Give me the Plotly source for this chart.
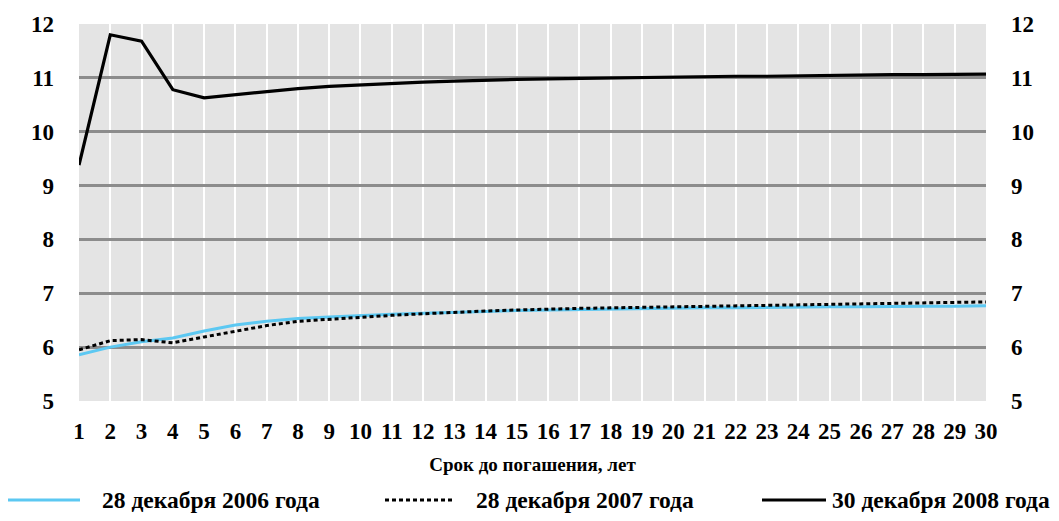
import plotly.graph_objects as go

years = list(range(1, 31))
s2006 = [5.86, 6.00, 6.10, 6.17, 6.30, 6.41, 6.48, 6.53, 6.56, 6.59,
         6.61, 6.63, 6.64, 6.66, 6.68, 6.69, 6.70, 6.71, 6.72, 6.72,
         6.73, 6.73, 6.74, 6.74, 6.75, 6.75, 6.76, 6.76, 6.76, 6.77]
s2007 = [5.95, 6.12, 6.14, 6.08, 6.19, 6.29, 6.40, 6.48, 6.52, 6.56,
         6.59, 6.62, 6.65, 6.67, 6.69, 6.71, 6.72, 6.73, 6.74, 6.75,
         6.76, 6.77, 6.78, 6.79, 6.80, 6.81, 6.82, 6.83, 6.84, 6.84]
s2008 = [9.38, 11.80, 11.68, 10.78, 10.63, 10.69, 10.75, 10.80, 10.84, 10.87,
         10.90, 10.92, 10.94, 10.96, 10.97, 10.98, 10.99, 11.00, 11.01, 11.02,
         11.02, 11.03, 11.03, 11.04, 11.05, 11.05, 11.06, 11.06, 11.07, 11.07]
names = ["28 декабря 2006 года", "28 декабря 2007 года", "30 декабря 2008 года"]
y_ticks = [5, 6, 7, 8, 9, 10, 11, 12]
x_title = "Срок до погашения, лет"

FONT = "Liberation Serif, Times New Roman, serif"
BLUE = "#5cc8f2"

W, H = 1051, 513
ML, MR, MT, MB = 71, 73, 16, 120
PW = W - ML - MR
PH = H - MT - MB

fig = go.Figure()
fig.add_trace(go.Scatter(x=years, y=s2006, mode="lines", name=names[0],
                         line=dict(color=BLUE, width=3)))
fig.add_trace(go.Scatter(x=years, y=s2007, mode="lines", name=names[1],
                         line=dict(color="black", width=3, dash="4px,3px")))
fig.add_trace(go.Scatter(x=years, y=s2008, mode="lines", name=names[2],
                         line=dict(color="black", width=3.2)))
# invisible trace to anchor right axis
fig.add_trace(go.Scatter(x=years, y=s2008, mode="lines", yaxis="y2",
                         line=dict(width=0), opacity=0, hoverinfo="skip", showlegend=False))

tickfont = dict(family=FONT, size=23, color="black", weight="bold")
fig.update_layout(
    width=W, height=H,
    margin=dict(l=ML, r=MR, t=MT, b=MB, autoexpand=False),
    paper_bgcolor="white", plot_bgcolor="#e4e4e4",
    showlegend=False,
    font=dict(family=FONT, color="black"),
    xaxis=dict(range=[1, 30], tickvals=years, ticktext=[str(v) for v in years],
               showgrid=True, gridcolor="white", gridwidth=2, zeroline=False,
               showline=False, ticks="", tickfont=tickfont, ticklabelstandoff=14,
               title=dict(text=x_title, font=dict(family=FONT, size=19, weight="bold"),
                          standoff=14)),
    yaxis=dict(range=[5, 12], tickvals=y_ticks, showgrid=True, gridcolor="#8c8c8c",
               gridwidth=3, zeroline=False, showline=False, ticks="",
               tickfont=tickfont, ticklabelstandoff=24),
    yaxis2=dict(range=[5, 12], tickvals=y_ticks, overlaying="y", side="right",
                showgrid=False, zeroline=False, showline=False, ticks="",
                tickfont=tickfont, ticklabelstandoff=24),
)

# legend drawn manually to match the spread layout (positions in page px)
leg_y = (PH + MT - (500 - 8)) / PH
items = [(0, 80, BLUE, "solid", names[0], 100),
         (385, 455, "black", "4px,3px", names[1], 474),
         (762, 826, "black", "solid", names[2], 830)]
def px2paper(px):
    return (px - 8 - ML) / PW
for x0, x1, col, dash, txt, tx in items:
    fig.add_shape(type="line", xref="paper", yref="paper",
                  x0=px2paper(x0), x1=px2paper(x1),
                  y0=leg_y, y1=leg_y, line=dict(color=col, width=3, dash=dash))
    fig.add_annotation(xref="paper", yref="paper", x=px2paper(tx), y=leg_y,
                       text=txt, showarrow=False, xanchor="left", yanchor="middle",
                       font=dict(family=FONT, size=23.5, color="black", weight="bold"))

fig.write_html("out.html")
